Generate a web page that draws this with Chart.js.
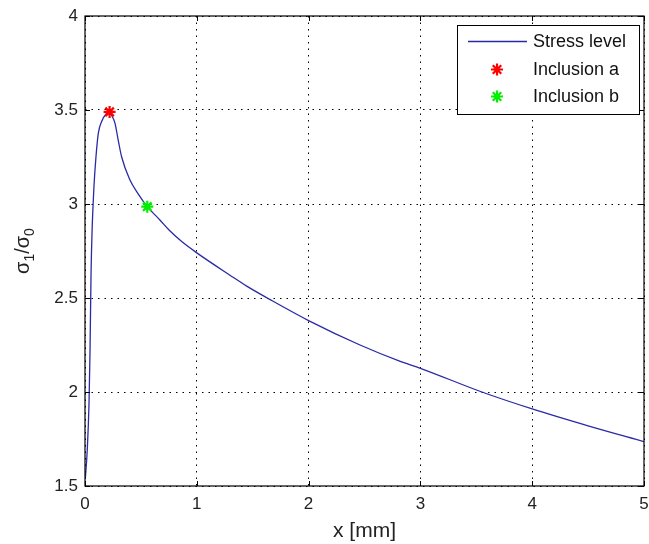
<!DOCTYPE html>
<html>
<head>
<meta charset="utf-8">
<script src="https://cdn.jsdelivr.net/npm/chart.js@4.4.1/dist/chart.umd.min.js"></script>
<style>
  html, body { margin: 0; padding: 0; background: #fff; }
  #wrap { width: 649px; height: 544px; }
</style>
</head>
<body>
<div id="wrap"><canvas id="c" width="649" height="544"></canvas></div>
<script>
// ---- data ----
const stressX = [0.003, 0.02, 0.036, 0.045, 0.054, 0.063, 0.08, 0.098, 0.12, 0.15, 0.19, 0.22, 0.24, 0.268, 0.30, 0.328, 0.40, 0.48, 0.557, 0.67, 0.754, 0.865, 1.0, 1.3, 1.45, 1.64, 2.0, 2.46, 2.82, 3.0, 3.55, 4.0, 4.5, 5.0];
const stressY = [1.54, 1.69, 1.94, 2.22, 2.63, 2.85, 3.09, 3.25, 3.38, 3.44, 3.48, 3.49, 3.47, 3.43, 3.33, 3.25, 3.13, 3.05, 2.986, 2.915, 2.86, 2.80, 2.74, 2.62, 2.562, 2.497, 2.38, 2.25, 2.163, 2.126, 2.0, 1.91, 1.82, 1.736];
const inclusionA = [0.22, 3.49];
const inclusionB = [0.557, 2.986];
const seriesLabels = ['Stress level', 'Inclusion a', 'Inclusion b'];
const xTicks = [0, 1, 2, 3, 4, 5];
const yTicks = [1.5, 2, 2.5, 3, 3.5, 4];

const FONT = '"Liberation Sans", Arial, sans-serif';
const LINE_COLOR = '#2a2aa6';

const framePlugin = {
  id: 'frame',
  afterDraw(chart) {
    const ctx = chart.ctx;
    const a = chart.chartArea;
    const xs = chart.scales.x, ys = chart.scales.y;
    ctx.save();
    ctx.strokeStyle = '#000';
    ctx.lineWidth = 1.2;
    ctx.strokeRect(a.left, a.top, a.right - a.left, a.bottom - a.top);
    ctx.lineWidth = 1;
    const tl = 5;
    xTicks.forEach(v => {
      const px = Math.round(xs.getPixelForValue(v)) + 0.5;
      ctx.beginPath();
      ctx.moveTo(px, a.bottom); ctx.lineTo(px, a.bottom - tl);
      ctx.moveTo(px, a.top); ctx.lineTo(px, a.top + tl);
      ctx.stroke();
    });
    yTicks.forEach(v => {
      const py = Math.round(ys.getPixelForValue(v)) + 0.5;
      ctx.beginPath();
      ctx.moveTo(a.left, py); ctx.lineTo(a.left + tl, py);
      ctx.moveTo(a.right, py); ctx.lineTo(a.right - tl, py);
      ctx.stroke();
    });
    // y axis title with subscripts
    ctx.translate(23, (a.top + a.bottom) / 2);
    ctx.rotate(-Math.PI / 2);
    ctx.fillStyle = '#222';
    ctx.textBaseline = 'alphabetic';
    const big = '20px ' + FONT, small = '14px ' + FONT;
    const parts = [['σ', big, 0], ['1', small, 5], ['/σ', big, 0], ['0', small, 5]];
    let total = 0;
    parts.forEach(p => { ctx.font = p[1]; total += ctx.measureText(p[0]).width; });
    let x = -total / 2;
    parts.forEach(p => {
      ctx.font = p[1];
      ctx.fillText(p[0], x, 6 + p[2]);
      x += ctx.measureText(p[0]).width;
    });
    ctx.restore();

    // legend
    ctx.save();
    const lx = 457, ly = 25, lw = 182, lh = 89;
    ctx.fillStyle = '#fff';
    ctx.fillRect(lx, ly, lw, lh);
    ctx.strokeStyle = '#000';
    ctx.lineWidth = 1;
    ctx.strokeRect(lx + 0.5, ly + 0.5, lw, lh);
    const rows = [41.5, 69.5, 96.5];
    ctx.font = '18px ' + FONT;
    ctx.textBaseline = 'middle';
    chart.data.datasets.forEach((ds, i) => {
      const cy = rows[i];
      if (i === 0) {
        ctx.strokeStyle = ds.borderColor;
        ctx.lineWidth = 1.3;
        ctx.beginPath(); ctx.moveTo(468, cy); ctx.lineTo(527, cy); ctx.stroke();
      } else {
        ctx.strokeStyle = ds.borderColor;
        ctx.lineWidth = 2.2;
        Chart.helpers.drawPoint(ctx, {pointStyle: 'star', radius: 6, borderWidth: 2.2, rotation: 0}, 497, cy);
      }
      ctx.fillStyle = '#111';
      ctx.fillText(ds.label, 533, cy + 1);
    });
    ctx.restore();
  }
};

new Chart(document.getElementById('c'), {
  type: 'scatter',
  data: {
    datasets: [
      {
        label: seriesLabels[0],
        data: stressX.map((x, i) => ({x, y: stressY[i]})),
        showLine: true,
        borderColor: LINE_COLOR,
        borderWidth: 1.3,
        pointRadius: 0,
        cubicInterpolationMode: 'monotone',
        order: 2
      },
      {
        label: seriesLabels[1],
        data: [{x: inclusionA[0], y: inclusionA[1]}],
        pointStyle: 'star',
        pointRadius: 6,
        borderColor: '#ff0000',
        backgroundColor: '#ff0000',
        borderWidth: 2.2,
        order: 1
      },
      {
        label: seriesLabels[2],
        data: [{x: inclusionB[0], y: inclusionB[1]}],
        pointStyle: 'star',
        pointRadius: 6,
        borderColor: '#00ee00',
        backgroundColor: '#00ee00',
        borderWidth: 2.2,
        order: 1
      }
    ]
  },
  options: {
    responsive: false,
    animation: false,
    devicePixelRatio: 1,
    layout: { autoPadding: false, padding: { top: 16, right: 5, left: 0, bottom: 0 } },
    plugins: { legend: { display: false }, tooltip: { enabled: false } },
    scales: {
      x: {
        type: 'linear',
        min: 0, max: 5,
        afterBuildTicks: s => { s.ticks = xTicks.map(v => ({value: v})); },
        afterFit: s => { s.height = 58; s.paddingLeft = 0; s.paddingRight = 0; },
        ticks: { padding: 8, color: '#222', font: { family: FONT, size: 17 }, callback: v => String(v) },
        grid: { color: '#000', lineWidth: 1, drawTicks: false },
        border: { display: false, dash: [1.5, 5] },
        title: { display: true, text: 'x [mm]', color: '#222', font: { family: FONT, size: 21 }, padding: { top: 3, bottom: 0 } }
      },
      y: {
        type: 'linear',
        min: 1.5, max: 4,
        afterBuildTicks: s => { s.ticks = yTicks.map(v => ({value: v})); },
        afterFit: s => { s.width = 85; s.paddingTop = 0; s.paddingBottom = 0; },
        ticks: { padding: 7, color: '#222', font: { family: FONT, size: 17 }, callback: v => String(v) },
        grid: { color: '#000', lineWidth: 1, drawTicks: false },
        border: { display: false, dash: [1.5, 5] }
      }
    }
  },
  plugins: [framePlugin]
});
</script>
</body>
</html>
